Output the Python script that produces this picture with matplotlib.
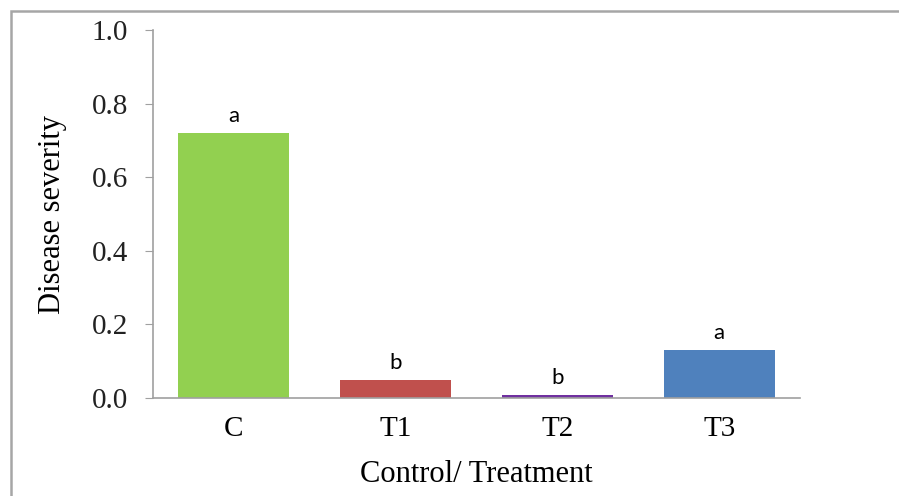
import matplotlib
matplotlib.use("Agg")
import matplotlib.pyplot as plt
from matplotlib.patches import Rectangle

# data
groups = ["C", "T1", "T2", "T3"]
severity = [0.72, 0.05, 0.008, 0.13]
letters = ["a", "b", "b", "a"]
colors = ["#92D050", "#C0504D", "#7030A0", "#4F81BD"]

fig = plt.figure(figsize=(8.99, 4.96), dpi=100)
ax = fig.add_axes([153 / 899, 1 - 398 / 496, 647 / 899, 368 / 496])

# frame around the chart area (only top and left show in the picture)
fig.patches.append(Rectangle((11 / 899, -0.1), 1.2, (496 - 11) / 496 + 0.1,
                             transform=fig.transFigure, fill=False,
                             edgecolor="#A6A6A6", lw=1.8, clip_on=False))

x = range(len(groups))
ax.bar(x, severity, width=0.686, color=colors)
for xi, v, t in zip(x, severity, letters):
    ax.annotate(t, (xi, v), xytext=(0, 5), textcoords="offset points",
                ha="center", va="bottom", fontsize=16, family="Lato")

ax.set_xlim(-0.5, 3.5)
ax.set_ylim(0, 1.0)
ax.set_yticks([0, 0.2, 0.4, 0.6, 0.8, 1.0])
ax.set_yticklabels(["0.0", "0.2", "0.4", "0.6", "0.8", "1.0"],
                   family="Liberation Serif", fontsize=21, color="#222222")
ax.set_xticks(list(x))
ax.set_xticklabels(groups, family="Liberation Serif", fontsize=21)
ax.tick_params(axis="y", length=6, color="#A0A0A0", pad=12)
ax.tick_params(axis="x", length=0, pad=13)

for s in ["top", "right"]:
    ax.spines[s].set_visible(False)
for s in ["left", "bottom"]:
    ax.spines[s].set_color("#A0A0A0")
    ax.spines[s].set_linewidth(1.2)

ax.set_ylabel("Disease severity", family="Liberation Serif", fontsize=22, labelpad=18)
ax.set_xlabel("Control/ Treatment", family="Liberation Serif", fontsize=22, labelpad=13)

fig.savefig("out.png", dpi=100)
